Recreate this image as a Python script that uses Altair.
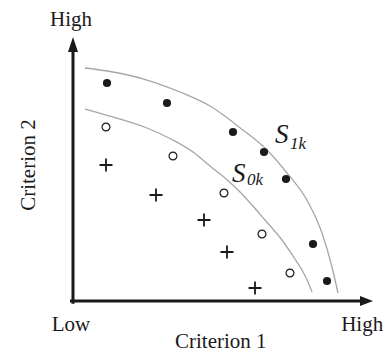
import altair as alt
import pandas as pd

# ---- data (both criteria on an arbitrary 0-10 scale) ----
# solutions on the first front (filled dots)
s1_x = [1.133, 3.133, 5.333, 6.367, 7.1, 8.0, 8.467]
s1_y = [8.258, 7.5, 6.402, 5.644, 4.621, 2.159, 0.758]
# solutions on the second front (open circles)
s0_x = [1.1, 3.333, 5.033, 6.3, 7.233]
s0_y = [6.591, 5.492, 4.091, 2.538, 1.061]
# remaining solutions (plus signs)
rest_x = [1.1, 2.767, 4.367, 5.133, 6.067]
rest_y = [5.152, 4.015, 3.068, 1.856, 0.492]

# front curves
f1_x = [0.4, 1.333, 2.467, 3.567, 4.567, 5.667, 6.467, 7.133, 7.833, 8.3, 8.633, 8.833]
f1_y = [8.826, 8.674, 8.371, 7.917, 7.386, 6.477, 5.720, 4.848, 3.75, 2.576, 1.288, 0.303]
f0_x = [0.4, 1.333, 2.467, 3.333, 4.0, 4.567, 5.067, 5.567, 5.967, 6.4, 6.967, 7.333, 7.633, 7.833, 7.967]
f0_y = [7.273, 6.970, 6.553, 6.098, 5.644, 5.114, 4.659, 4.129, 3.636, 3.068, 2.311, 1.705, 1.174, 0.720, 0.341]

# labels
axis_texts = ["High", "Low", "High", "Criterion 1"]
axis_tx = [-0.067, -0.067, 9.64, 4.927]
axis_ty = [10.43, -1.136, -1.136, -1.77]
ylabel = "Criterion 2"
front_main = ["S", "S"]
front_main_x = [6.733, 5.3]
front_main_y = [5.985, 4.508]
front_sub = ["1k", "0k"]
front_sub_x = [7.233, 5.8]
front_sub_y = [5.758, 4.394]

FONT = "Liberation Serif, Times New Roman, DejaVu Serif, serif"
INK = "#1a1a1a"

xs = alt.Scale(domain=[0, 10], nice=False, zero=False)
ys = alt.Scale(domain=[0, 10], nice=False, zero=False)

def X(f="x"):
    return alt.X(f"{f}:Q", scale=xs, axis=None)

def Y(f="y"):
    return alt.Y(f"{f}:Q", scale=ys, axis=None)

curves = pd.DataFrame(
    [{"s": "S1k", "o": i, "x": a, "y": b} for i, (a, b) in enumerate(zip(f1_x, f1_y))]
    + [{"s": "S0k", "o": i, "x": a, "y": b} for i, (a, b) in enumerate(zip(f0_x, f0_y))]
)
curve_layer = alt.Chart(curves).mark_line(
    color="#a6a6a6", strokeWidth=1.3, interpolate="monotone"
).encode(x=X(), y=Y(), detail="s:N", order="o:Q")

axes = pd.DataFrame({"x": [-0.05, 0.0], "x2": [9.63, 0.0], "y": [0.0, -0.05], "y2": [0.0, 9.58]})
axis_layer = alt.Chart(axes).mark_rule(color=INK, strokeWidth=3, strokeCap="square").encode(
    x=X(), x2="x2:Q", y=Y(), y2="y2:Q"
)

arrow_up = alt.Chart(pd.DataFrame({"x": [0.0], "y": [10.0]})).mark_point(
    shape="M0,0L0.5,1.5L-0.5,1.5Z", size=400, filled=True, color=INK, opacity=1, strokeWidth=0
).encode(x=X(), y=Y())
arrow_right = alt.Chart(pd.DataFrame({"x": [10.0], "y": [0.0]})).mark_point(
    shape="M0,0L-1.3,-0.5L-1.3,0.5Z", size=400, filled=True, color=INK, opacity=1, strokeWidth=0
).encode(x=X(), y=Y())

filled = alt.Chart(pd.DataFrame({"x": s1_x, "y": s1_y})).mark_circle(
    size=66, color=INK, opacity=1
).encode(x=X(), y=Y())
opened = alt.Chart(pd.DataFrame({"x": s0_x, "y": s0_y})).mark_point(
    shape="circle", size=62, filled=False, color=INK, opacity=1, strokeWidth=1.2
).encode(x=X(), y=Y())
plus = alt.Chart(pd.DataFrame({"x": rest_x, "y": rest_y})).mark_point(
    shape="M-1,0L1,0M0,-1L0,1", size=169, filled=False, color=INK, opacity=1, strokeWidth=1.8
).encode(x=X(), y=Y())

labels = alt.Chart(pd.DataFrame({"x": axis_tx, "y": axis_ty, "t": axis_texts})).mark_text(
    font=FONT, fontSize=21, align="center", baseline="alphabetic", color=INK
).encode(x=X(), y=Y(), text="t:N")
ylab = alt.Chart(pd.DataFrame({"x": [-1.267], "y": [5.15], "t": [ylabel]})).mark_text(
    font=FONT, fontSize=21, align="center", baseline="alphabetic", angle=270, color=INK
).encode(x=X(), y=Y(), text="t:N")

smain = alt.Chart(pd.DataFrame({"x": front_main_x, "y": front_main_y, "t": front_main})).mark_text(
    font=FONT, fontSize=27, fontStyle="italic", align="left", baseline="alphabetic", color=INK
).encode(x=X(), y=Y(), text="t:N")
ssub = alt.Chart(pd.DataFrame({"x": front_sub_x, "y": front_sub_y, "t": front_sub})).mark_text(
    font=FONT, fontSize=17, fontStyle="italic", align="left", baseline="alphabetic", color=INK
).encode(x=X(), y=Y(), text="t:N")

chart = alt.layer(
    curve_layer, axis_layer, arrow_up, arrow_right, filled, opened, plus,
    labels, ylab, smain, ssub
).properties(
    width=300, height=264,
    autosize=alt.AutoSizeParams(type="none"),
    padding={"left": 65, "top": 29, "right": 11, "bottom": 52},
    background="white",
).configure_view(stroke=None)

chart.save("out.html", embed_options={"renderer": "svg", "actions": False})
